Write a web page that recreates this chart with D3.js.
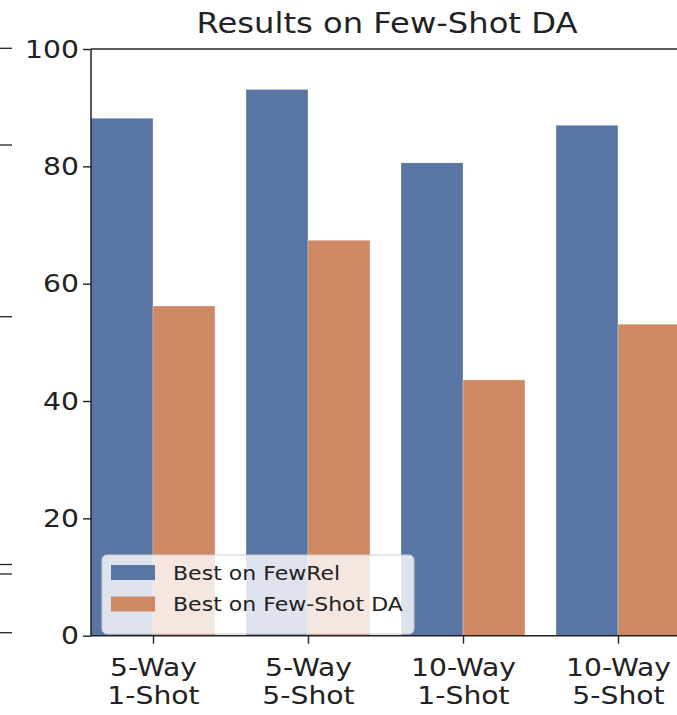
<!DOCTYPE html>
<html>
<head>
<meta charset="utf-8">
<script src="https://cdn.jsdelivr.net/npm/d3@7"></script>
<style>
  html, body { margin: 0; padding: 0; background: #fff; }
  svg { display: block; font-family: "DejaVu Sans", sans-serif; }
</style>
</head>
<body>
<svg id="chart" width="677" height="715"></svg>
<script>
// Few-shot domain adaptation results
const categories = [["5-Way", "1-Shot"], ["5-Way", "5-Shot"], ["10-Way", "1-Shot"], ["10-Way", "5-Shot"]];
const seriesNames = ["Best on FewRel", "Best on Few-Shot DA"];
const bestOnFewRel = [88.2, 93.1, 80.6, 87.0];
const bestOnFewShotDA = [56.2, 67.4, 43.6, 53.1];
const yTicks = [0, 20, 40, 60, 80, 100];
const colors = ["#5975a4", "#cc8963"];

const series = [bestOnFewRel, bestOnFewShotDA];

const svg = d3.select("#chart");
const plot = { left: 91, right: 680, top: 49, bottom: 635.7 };
const stretch = 1.13; // glyphs are drawn slightly wide

// group index scale: each group spans 0.8 of a slot, bars side by side
const x = d3.scaleLinear().domain([-0.4, categories.length - 0.6]).range([plot.left, plot.right]);
const y = d3.scaleLinear().domain([0, 100]).range([plot.bottom, plot.top]);
const barW = 0.4;

// faint tick stubs of the neighbouring panel at the far left
const stubs = [48.3, 145, 316.7, 564.5, 574, 632.7];
svg.append("g").selectAll("line").data(stubs).join("line")
  .attr("x1", 0).attr("x2", 12).attr("y1", d => d).attr("y2", d => d)
  .attr("stroke", "#222").attr("stroke-width", 1.3);

// bars
const bars = svg.append("g");
series.forEach((vals, s) => {
  bars.selectAll(null).data(vals).join("rect")
    .attr("x", (d, i) => x(i - barW + s * barW))
    .attr("width", (d, i) => x(i + s * barW) - x(i - barW + s * barW))
    .attr("y", d => y(d))
    .attr("height", d => y(0) - y(d))
    .attr("fill", colors[s])
    .attr("stroke", "#ffffff").attr("stroke-opacity", 0.35).attr("stroke-width", 0.8);
});

// axes
const yAxis = svg.append("g")
  .attr("transform", `translate(${plot.left},0)`)
  .call(d3.axisLeft(y).tickValues(yTicks).tickSize(8).tickPadding(4));
const xAxis = svg.append("g")
  .attr("transform", `translate(0,${plot.bottom})`)
  .call(d3.axisBottom(x).tickValues(d3.range(categories.length)).tickSize(8).tickFormat(""));

[yAxis, xAxis].forEach(g => {
  g.select(".domain").remove();
  g.selectAll(".tick line").attr("stroke", "#222").attr("stroke-width", 1.4);
});
yAxis.selectAll(".tick text")
  .attr("x", 0)
  .attr("transform", `translate(-12,0) scale(${stretch},1)`)
  .attr("font-size", 25).attr("fill", "#222")
  .attr("font-family", "DejaVu Sans");

// two-line category labels
xAxis.selectAll(".tick").each(function(d) {
  const t = d3.select(this).append("text")
    .attr("transform", `scale(${stretch},1)`)
    .attr("text-anchor", "middle").attr("fill", "#222")
    .attr("font-size", 25).attr("font-family", "DejaVu Sans");
  categories[d].forEach((line, k) => {
    t.append("tspan").attr("x", 0).attr("y", 40 + k * 28.5).text(line);
  });
});

// spines
const spine = svg.append("g").attr("stroke", "#222").attr("stroke-width", 1.5).attr("fill", "none");
spine.append("line").attr("x1", plot.left).attr("x2", plot.left).attr("y1", plot.top).attr("y2", plot.bottom);
spine.append("line").attr("x1", plot.left).attr("x2", plot.right).attr("y1", plot.top).attr("y2", plot.top);
spine.append("line").attr("x1", plot.left).attr("x2", plot.right).attr("y1", plot.bottom).attr("y2", plot.bottom);
spine.append("line").attr("x1", plot.right).attr("x2", plot.right).attr("y1", plot.top).attr("y2", plot.bottom);

// title
svg.append("text")
  .attr("transform", `translate(387,33) scale(${stretch},1)`)
  .attr("text-anchor", "middle").attr("font-size", 28.5).attr("fill", "#222")
  .text("Results on Few-Shot DA");

// legend
const lg = svg.append("g").attr("transform", "translate(102,555)");
lg.append("rect").attr("width", 312).attr("height", 79).attr("rx", 5)
  .attr("fill", "#fff").attr("fill-opacity", 0.8)
  .attr("stroke", "#cccccc").attr("stroke-width", 1);
seriesNames.forEach((name, s) => {
  lg.append("rect").attr("x", 9).attr("y", 10 + s * 31.5).attr("width", 44).attr("height", 15)
    .attr("fill", colors[s]);
  lg.append("text")
    .attr("transform", `translate(71,${24.5 + s * 31.5}) scale(${stretch},1)`)
    .attr("font-size", 19.5).attr("fill", "#222").text(name);
});
</script>
</body>
</html>
